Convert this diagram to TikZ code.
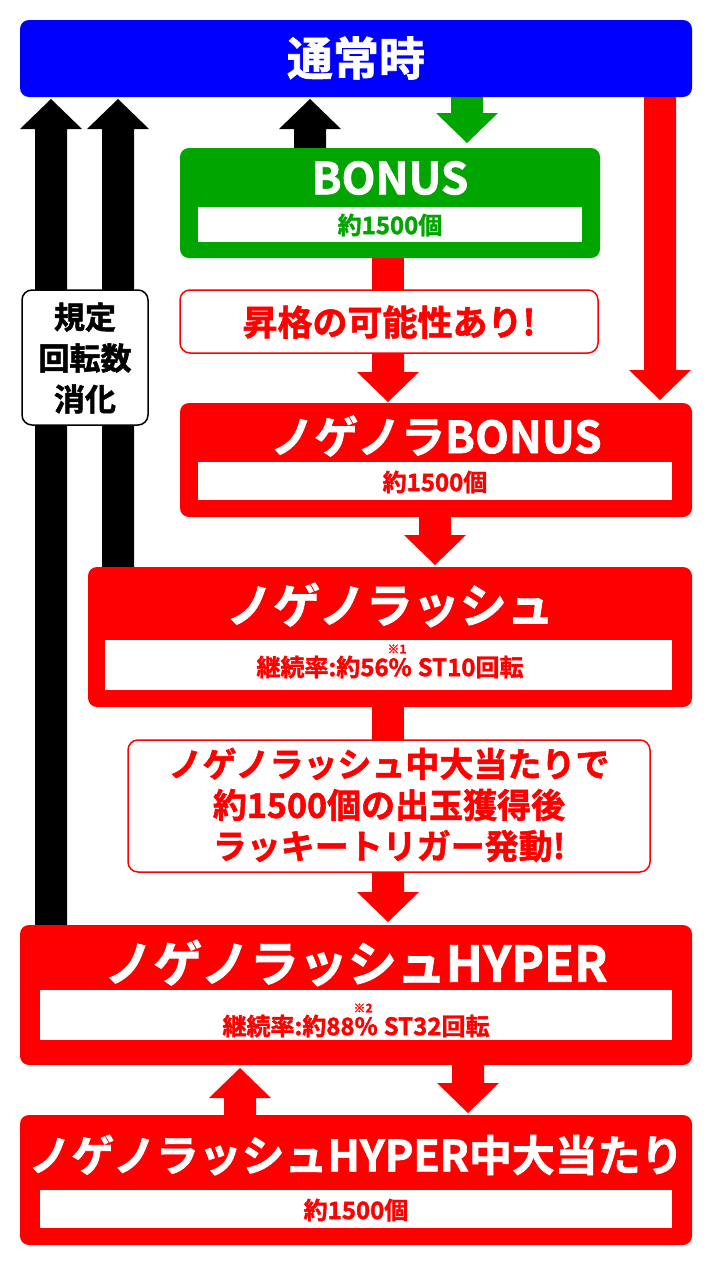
\documentclass[tikz,border=0pt]{standalone}
\usepackage{fontspec}
\setmainfont{Noto Sans CJK JP}[BoldFont={Noto Sans CJK JP Bold},BoldFeatures={FakeBold=1.6}]
\definecolor{rd}{RGB}{255,0,0}
\definecolor{gr}{RGB}{0,165,0}
\definecolor{bl}{RGB}{0,0,255}
\tikzset{
 box/.style={rounded corners=9pt,inner sep=0},
 msg/.style={draw=rd,line width=1.5pt,fill=white,rounded corners=10pt,inner sep=0},
 ttl/.style={text=white,font=\bfseries\fontsize{46}{48}\selectfont},
 sub/.style={font=\bfseries\fontsize{24}{26}\selectfont},
 note/.style={text=rd,font=\bfseries\fontsize{12}{13}\selectfont},
}
% block arrow: \barrow{color}{cx}{tail y}{tip y}
\newcommand\barrow[4]{\fill[#1] ({#2-16},#3) -- ({#2-16},{#4+(#3>#4?30:-30)}) -- ({#2-31},{#4+(#3>#4?30:-30)}) -- (#2,#4) -- ({#2+31},{#4+(#3>#4?30:-30)}) -- ({#2+16},{#4+(#3>#4?30:-30)}) -- ({#2+16},#3) -- cycle;}
\begin{document}
\begin{tikzpicture}[x=1pt,y=-1pt]
\useasboundingbox (0,0) rectangle (712,1266);
% arrows
\barrow{black}{51}{925}{99}
\barrow{black}{118}{570}{99}
\barrow{black}{310}{150}{99}
\barrow{gr}{467}{95}{143}
\barrow{rd}{660}{95}{400}
\fill[rd] (372,255) rectangle (404,292);
\barrow{rd}{388}{352}{402}
\barrow{rd}{435}{515}{565}
\fill[rd] (372,705) rectangle (404,742);
\barrow{rd}{388}{870}{922}
\barrow{rd}{240}{1118}{1068}
\barrow{rd}{468}{1063}{1113}
% top bar
\fill[bl,box] (20,20) rectangle (692,97);
\node[ttl] (top) at (356,58) {通常時};
% bonus
\fill[gr,box] (180,148) rectangle (600,258);
\node[ttl,font=\bfseries\fontsize{44}{46}\selectfont] (bonus) at (390,178) {BONUS};
\fill[white] (198,207) rectangle (582,242);
\node[sub,text=gr] (bonusv) at (390,225) {約1500個};
% message 1
\draw[msg] (180,290) rectangle (598,353);
\node[text=rd,font=\bfseries\fontsize{35}{37}\selectfont] (m1) at (389,322) {昇格の可能性あり!};
% label
\draw[line width=1.5pt,fill=white,rounded corners=10pt] (22,290) rectangle (148,425);
\node[align=center,font=\bfseries\fontsize{31}{41}\selectfont] (lbl) at (85,358) {規定\\回転数\\消化};
% nogenora bonus
\fill[rd,box] (180,403) rectangle (692,517);
\node[ttl,font=\bfseries\fontsize{44}{46}\selectfont] (nb) at (436,436) {ノゲノラBONUS};
\fill[white] (198,462) rectangle (672,500);
\node[sub,text=rd] (nbv) at (435,482) {約1500個};
% rush
\fill[rd,box] (88,567) rectangle (692,707);
\node[ttl,font=\bfseries\fontsize{47}{49}\selectfont] (rush) at (390,605) {ノゲノラッシュ};
\fill[white] (105,640) rectangle (672,690);
\node[sub,text=rd] (rushv) at (390,667) {継続率:約56\%\hspace{6pt}ST10回転};
\node[note] (n1) at (397,649) {※1};
% message 2
\draw[msg] (128,740) rectangle (650,872);
\node[text=rd,align=center,font=\bfseries\fontsize{34}{41}\selectfont] (m2) at (389,805) {ノゲノラッシュ中大当たりで\\約1500個の出玉獲得後\\ラッキートリガー発動!};
% hyper
\fill[rd,box] (20,925) rectangle (692,1065);
\node[ttl,font=\bfseries\fontsize{49}{51}\selectfont] (hy) at (356,963) {ノゲノラッシュHYPER};
\fill[white] (40,990) rectangle (672,1040);
\node[sub,text=rd] (hyv) at (356,1026) {継続率:約88\%\hspace{6pt}ST32回転};
\node[note] (n2) at (363,1008) {※2};
% hyper hit
\fill[rd,box] (20,1115) rectangle (692,1245);
\node[ttl] (hh) at (356,1155) {\resizebox{655pt}{!}{ノゲノラッシュHYPER中大当たり}};
\fill[white] (40,1190) rectangle (672,1228);
\node[sub,text=rd] (hhv) at (356,1210) {約1500個};
\end{tikzpicture}
\end{document}
